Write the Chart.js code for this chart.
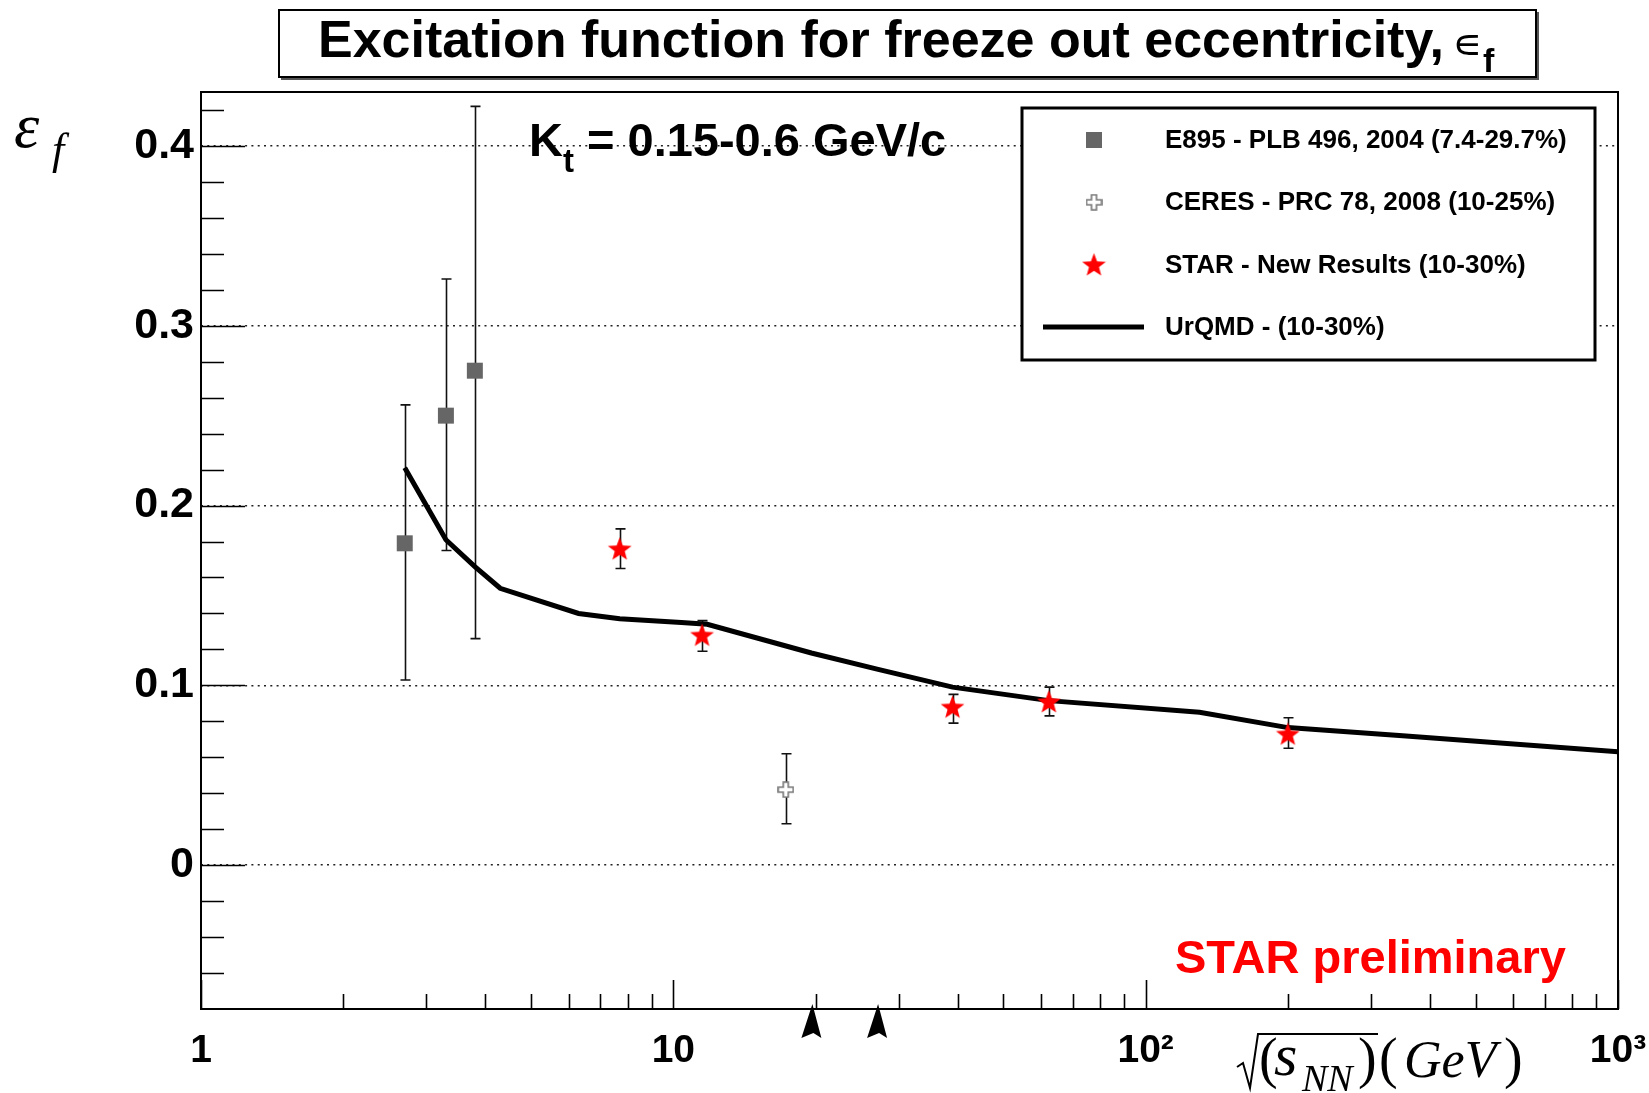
<!DOCTYPE html>
<html>
<head>
<meta charset="utf-8">
<title>Excitation function for freeze out eccentricity</title>
<script src="https://cdn.jsdelivr.net/npm/chart.js@4.4.0/dist/chart.umd.min.js"></script>
<style>
  html, body { margin: 0; padding: 0; background: #fff; }
  #wrap { width: 1649px; height: 1093px; }
</style>
</head>
<body>
<div id="wrap"><canvas id="chart" width="1649" height="1093"></canvas></div>
<script>
// E895 - PLB 496, 2004 (sqrt(sNN) in GeV)
const e895X  = [2.7, 3.3, 3.8];
const e895Y  = [0.179, 0.250, 0.275];
const e895Lo = [0.103, 0.175, 0.126];
const e895Hi = [0.256, 0.326, 0.422];

// CERES - PRC 78, 2008
const ceresX  = [17.3];
const ceresY  = [0.042];
const ceresLo = [0.023];
const ceresHi = [0.062];

// STAR - new results
const starX  = [7.7, 11.5, 39, 62.4, 200];
const starY  = [0.176, 0.128, 0.088, 0.091, 0.073];
const starLo = [0.165, 0.119, 0.079, 0.083, 0.065];
const starHi = [0.187, 0.136, 0.095, 0.099, 0.082];

// UrQMD curve
const urqmdX = [2.7, 3.3, 3.8, 4.3, 6.3, 7.7, 10.4, 11.8, 19.6, 27, 39, 62.4, 130, 200, 350, 1000];
const urqmdY = [0.221, 0.181, 0.166, 0.154, 0.140, 0.137, 0.135, 0.134, 0.118, 0.109, 0.099, 0.0915, 0.085, 0.0765, 0.072, 0.063];

// arrows under the x axis
const arrowX = [19.6, 27];

// axis ticks
const xMajorTicks = [1, 10, 100, 1000];
const xTickLabels = ["1", "10", "10\u00B2", "10\u00B3"];
const yMajorTicks = [0, 0.1, 0.2, 0.3, 0.4];
const yTickLabels = ["0", "0.1", "0.2", "0.3", "0.4"];

const legendItems = [
  { text: "E895 - PLB 496, 2004 (7.4-29.7%)", kind: "square" },
  { text: "CERES - PRC 78, 2008 (10-25%)", kind: "cross" },
  { text: "STAR - New Results (10-30%)", kind: "star" },
  { text: "UrQMD - (10-30%)", kind: "line" }
];

const SANS = '"Liberation Sans", Arial, Helvetica, sans-serif';
const SERIF = '"Liberation Serif", "Times New Roman", serif';

// marker images
function makeStar(size, color) {
  const c = document.createElement("canvas");
  c.width = size; c.height = size;
  const g = c.getContext("2d");
  const R = size / 2, r = R * 0.42;
  g.beginPath();
  for (let i = 0; i < 10; i++) {
    const rad = i % 2 ? r : R;
    const a = -Math.PI / 2 + i * Math.PI / 5;
    g.lineTo(R + rad * Math.cos(a), R + rad * Math.sin(a) + 1);
  }
  g.closePath();
  g.fillStyle = color;
  g.fill();
  return c;
}

function makeOpenCross(size) {
  const c = document.createElement("canvas");
  c.width = size; c.height = size;
  const g = c.getContext("2d");
  const m = 1, s = size - 2 * m, a = s / 3;
  const pts = [
    [a, 0], [2 * a, 0], [2 * a, a], [s, a], [s, 2 * a], [2 * a, 2 * a],
    [2 * a, s], [a, s], [a, 2 * a], [0, 2 * a], [0, a], [a, a]
  ];
  g.beginPath();
  pts.forEach(p => g.lineTo(p[0] + m, p[1] + m));
  g.closePath();
  g.fillStyle = "#fff";
  g.fill();
  g.strokeStyle = "#777";
  g.lineWidth = 1.6;
  g.stroke();
  return c;
}

const starImg = makeStar(25, "#ff0000");
const crossImg = makeOpenCross(17);

const errorSets = [
  { x: e895X, lo: e895Lo, hi: e895Hi },
  { x: ceresX, lo: ceresLo, hi: ceresHi },
  { x: starX, lo: starLo, hi: starHi }
];

function pts(xs, ys) {
  return xs.map((x, i) => ({ x: x, y: ys[i] }));
}

const decorations = {
  id: "decorations",
  beforeDatasetsDraw(chart) {
    const { ctx, scales: { x, y } } = chart;
    ctx.save();
    ctx.strokeStyle = "#111";
    ctx.lineWidth = 1.6;
    errorSets.forEach(set => {
      set.x.forEach((v, i) => {
        const px = Math.round(x.getPixelForValue(v)) + 0.5;
        const top = y.getPixelForValue(set.hi[i]);
        const bot = y.getPixelForValue(set.lo[i]);
        ctx.beginPath();
        ctx.moveTo(px, top); ctx.lineTo(px, bot);
        ctx.moveTo(px - 5, top); ctx.lineTo(px + 5, top);
        ctx.moveTo(px - 5, bot); ctx.lineTo(px + 5, bot);
        ctx.stroke();
      });
    });
    ctx.restore();
  },
  afterDraw(chart) {
    const { ctx, chartArea: a, scales: { x, y } } = chart;
    ctx.save();

    // frame
    ctx.strokeStyle = "#000";
    ctx.lineWidth = 2;
    ctx.strokeRect(a.left, a.top, a.right - a.left, a.bottom - a.top);

    // y ticks (inside)
    ctx.lineWidth = 1.6;
    ctx.beginPath();
    for (let k = -4; k <= 21; k++) {
      const v = k * 0.02;
      const py = Math.round(y.getPixelForValue(v)) + 0.5;
      if (py < a.top || py > a.bottom) continue;
      const len = k % 5 === 0 ? 44 : 23;
      ctx.moveTo(a.left, py); ctx.lineTo(a.left + len, py);
    }
    ctx.stroke();

    // x ticks (inside, from the bottom)
    ctx.beginPath();
    for (let d = 1; d <= 100; d *= 10) {
      for (let m = 1; m <= 10; m++) {
        const v = m * d;
        const px = Math.round(x.getPixelForValue(v)) + 0.5;
        const len = (m === 1 || m === 10) ? 29 : 15;
        ctx.moveTo(px, a.bottom); ctx.lineTo(px, a.bottom - len);
      }
    }
    ctx.stroke();

    // arrows below the axis
    ctx.fillStyle = "#000";
    arrowX.forEach(v => {
      const px = x.getPixelForValue(v);
      ctx.beginPath();
      ctx.moveTo(px + 1, a.bottom - 5);
      ctx.lineTo(px + 10, a.bottom + 29);
      ctx.lineTo(px + 2, a.bottom + 24);
      ctx.lineTo(px - 10, a.bottom + 29);
      ctx.closePath();
      ctx.fill();
    });

    // legend box
    const lx = 1022, ly = 108, lw = 573, lh = 252;
    ctx.fillStyle = "#fff";
    ctx.fillRect(lx, ly, lw, lh);
    ctx.lineWidth = 3;
    ctx.strokeStyle = "#000";
    ctx.strokeRect(lx, ly, lw, lh);
    ctx.font = "bold 26px " + SANS;
    ctx.textBaseline = "middle";
    ctx.textAlign = "left";
    legendItems.forEach((it, i) => {
      const cy = 140 + i * 62.3;
      const mx = 1094;
      if (it.kind === "square") {
        ctx.fillStyle = "#666";
        ctx.fillRect(mx - 8, cy - 8, 16, 16);
      } else if (it.kind === "cross") {
        ctx.drawImage(crossImg, mx - crossImg.width / 2, cy - crossImg.height / 2);
      } else if (it.kind === "star") {
        ctx.drawImage(starImg, mx - starImg.width / 2, cy - starImg.height / 2);
      } else {
        ctx.lineWidth = 5;
        ctx.beginPath();
        ctx.moveTo(1043, cy); ctx.lineTo(1144, cy);
        ctx.stroke();
      }
      ctx.fillStyle = "#000";
      ctx.fillText(it.text, 1165, cy + 1);
    });

    // title box
    ctx.fillStyle = "#555";
    ctx.fillRect(281, 77, 1258, 3);
    ctx.fillRect(1536, 12, 3, 68);
    ctx.fillStyle = "#fff";
    ctx.fillRect(279, 10, 1257, 67);
    ctx.lineWidth = 2;
    ctx.strokeStyle = "#000";
    ctx.strokeRect(279, 10, 1257, 67);

    ctx.textBaseline = "alphabetic";
    ctx.fillStyle = "#000";
    ctx.font = "bold 52px " + SANS;
    const title = "Excitation function for freeze out eccentricity,";
    ctx.fillText(title, 318, 57);
    let tx = 318 + ctx.measureText(title).width + 8;
    ctx.font = "42px " + '"DejaVu Sans", sans-serif';
    ctx.fillText("\u220A", tx, 58);
    tx += ctx.measureText("\u220A").width + 1;
    ctx.font = "bold 34px " + SANS;
    ctx.fillText("f", tx, 72);

    // Kt text
    ctx.font = "bold 47px " + SANS;
    ctx.fillText("K", 529, 156);
    let kx = 529 + ctx.measureText("K").width;
    ctx.font = "bold 33px " + SANS;
    ctx.fillText("t", kx, 172);
    kx += ctx.measureText("t").width;
    ctx.font = "bold 47px " + SANS;
    ctx.fillText(" = 0.15-0.6 GeV/c", kx, 156);

    // STAR preliminary
    ctx.fillStyle = "#ff0000";
    ctx.font = "bold 47px " + SANS;
    ctx.fillText("STAR preliminary", 1175, 973);

    // y axis title
    ctx.fillStyle = "#000";
    ctx.font = "italic 64px " + SERIF;
    ctx.fillText("\u03B5", 14, 147);
    ctx.font = "italic 44px " + SERIF;
    ctx.fillText("f", 52, 164);

    // x axis title: sqrt(s_NN) (GeV)
    ctx.lineWidth = 2;
    ctx.beginPath();
    ctx.moveTo(1237, 1067);
    ctx.lineTo(1243, 1063);
    ctx.lineTo(1250, 1088);
    ctx.lineTo(1258, 1034);
    ctx.lineTo(1378, 1034);
    ctx.stroke();
    ctx.font = "56px " + SERIF;
    ctx.fillText("(", 1259, 1077);
    ctx.fillText(")", 1358, 1077);
    ctx.fillText("(", 1379, 1077);
    ctx.fillText(")", 1504, 1077);
    ctx.font = "italic 60px " + SERIF;
    ctx.fillText("s", 1274, 1075);
    ctx.font = "italic 38px " + SERIF;
    ctx.fillText("NN", 1302, 1091);
    ctx.font = "italic 52px " + SERIF;
    ctx.fillText("GeV", 1404, 1077);

    ctx.restore();
  }
};

const ctx = document.getElementById("chart").getContext("2d");
new Chart(ctx, {
  type: "scatter",
  data: {
    datasets: [
      {
        label: "STAR - New Results (10-30%)",
        data: pts(starX, starY),
        pointStyle: starImg,
        pointRadius: 12,
        showLine: false
      },
      {
        label: "CERES - PRC 78, 2008 (10-25%)",
        data: pts(ceresX, ceresY),
        pointStyle: crossImg,
        pointRadius: 8,
        showLine: false
      },
      {
        label: "E895 - PLB 496, 2004 (7.4-29.7%)",
        data: pts(e895X, e895Y),
        pointStyle: "rect",
        pointRadius: 11.3,
        pointBackgroundColor: "#666",
        pointBorderWidth: 0,
        showLine: false
      },
      {
        label: "UrQMD - (10-30%)",
        data: pts(urqmdX, urqmdY),
        showLine: true,
        borderColor: "#000",
        borderWidth: 5,
        pointRadius: 0,
        tension: 0
      }
    ]
  },
  options: {
    responsive: false,
    animation: false,
    devicePixelRatio: 1,
    layout: { padding: { left: 0, right: 31, top: 92, bottom: 0 } },
    plugins: {
      legend: { display: false },
      tooltip: { enabled: false },
      title: { display: false }
    },
    scales: {
      x: {
        type: "logarithmic",
        min: 1,
        max: 1000,
        afterBuildTicks: s => { s.ticks = xMajorTicks.map(v => ({ value: v })); },
        afterFit: s => { s.height = 84; s.paddingLeft = 0; s.paddingRight = 0; },
        grid: { display: false, drawTicks: false },
        border: { display: false },
        ticks: {
          autoSkip: false,
          maxRotation: 0,
          padding: 19,
          color: "#000",
          font: { family: SANS, size: 39, weight: "bold" },
          callback: v => {
            const i = xMajorTicks.indexOf(v);
            return i >= 0 ? xTickLabels[i] : "";
          }
        }
      },
      y: {
        min: -0.08,
        max: 0.43,
        afterBuildTicks: s => { s.ticks = yMajorTicks.map(v => ({ value: v })); },
        afterFit: s => { s.width = 201; s.paddingTop = 0; s.paddingBottom = 0; },
        grid: { color: "#222", lineWidth: 1.6, drawTicks: false },
        border: { display: false, dash: [2, 4.3] },
        ticks: {
          padding: 7,
          color: "#000",
          font: { family: SANS, size: 43, weight: "bold" },
          callback: (v, i) => yTickLabels[i]
        }
      }
    }
  },
  plugins: [decorations]
});
</script>
</body>
</html>
